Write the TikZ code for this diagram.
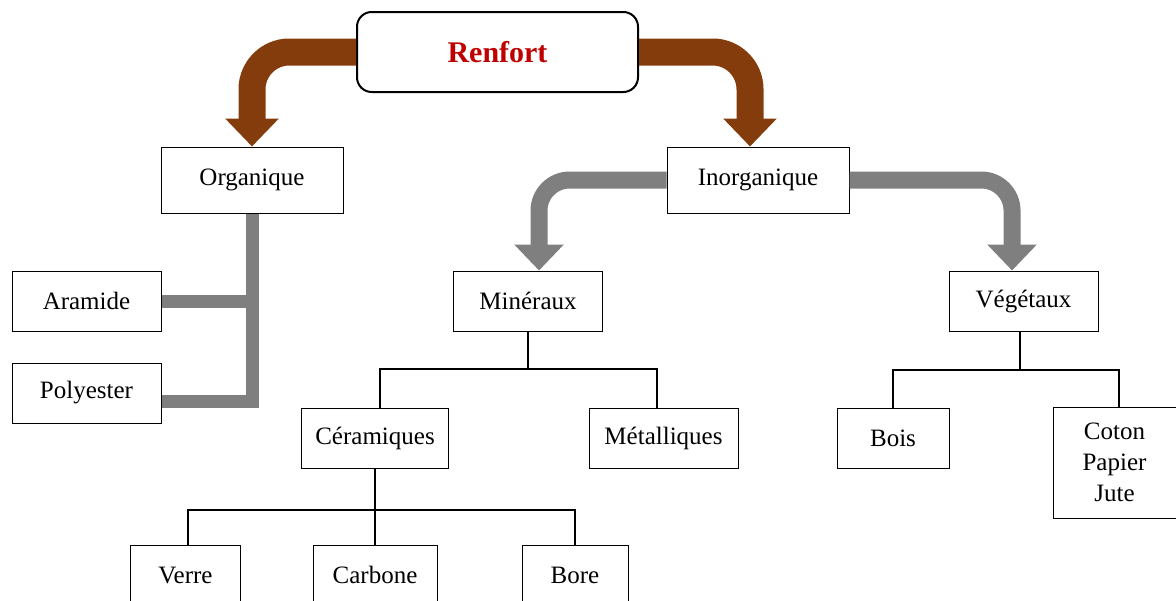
\documentclass[tikz,border=0pt]{standalone}
\usepackage{fontspec}
\setmainfont{Liberation Serif}
\usepackage{xcolor}
\usepackage{tikz}
\usetikzlibrary{arrows.meta}
\definecolor{rust}{HTML}{843C0C}
\definecolor{slate}{HTML}{7F7F7F}
\definecolor{headred}{HTML}{C00000}

\begin{document}
\begin{tikzpicture}[x=0.75pt, y=-0.75pt,
    box/.style={draw, line width=0.75pt, fill=white, inner sep=2pt, align=center,
      font=\fontsize{18.75}{23.25}\selectfont},
    bigarrow/.style={rust, line width=20.25pt, rounded corners=28pt,
      -{Triangle[width=39pt,length=21pt]}},
    midarrow/.style={slate, line width=12.75pt, rounded corners=23pt,
      -{Triangle[width=36pt,length=19.5pt]}},
    bar/.style={slate, line width=9.75pt},
    branch/.style={line width=1.5pt}]
    \useasboundingbox (0,0) rectangle (1176,600);

    \node[draw, line width=1.5pt, rounded corners=11pt, minimum width=210.75pt,
      minimum height=60pt, text=headred, font=\fontsize{22.5}{27}\selectfont\bfseries]
      (renfort) at (497.5,52) {Renfort};

    \foreach \nm/\x/\y/\w/\h/\lbl in {organique/252/180/136.5/49.5/Organique,
        inorganique/758/180/136.5/49.5/Inorganique,
        aramide/86.5/301/111.75/45/Aramide, polyester/86.5/393/111.75/45/Polyester,
        mineraux/528/301/111.75/45/Minéraux, vegetaux/1023.5/301/111.75/45/Végétaux,
        ceramiques/375/438/110.25/45/Céramiques, metalliques/663.5/438/111.75/45/Métalliques,
        bois/893/438/84/45/Bois, verre/185.5/575/82.5/45/Verre,
        carbone/375/575/93/45/Carbone, bore/575/575/79.5/45/Bore} {
      \node[box, minimum width=\w pt, minimum height=\h pt] (\nm) at (\x,\y) {\lbl};
    }
    \node[box, minimum width=92.25pt, minimum height=83.25pt] (coton) at (1114.5,462.5)
      {Coton\\Papier\\Jute};

    \draw[bigarrow] (renfort.west) -| (organique.north);
    \draw[bigarrow] (renfort.east) -| ([xshift=-6pt]inorganique.north);
    \draw[midarrow] (inorganique.west) -| ([xshift=8.25pt]mineraux.north);
    \draw[midarrow] (inorganique.east) -| ([xshift=-8.6pt]vegetaux.north);

    \draw[bar] (organique.south) |- ([yshift=-6pt]polyester.east);
    \draw[bar] (organique.south |- aramide.east) -- (aramide.east);

    \draw[branch] (mineraux.south) -- ++(0,37) coordinate (mj);
    \draw[branch] ([xshift=3.75pt]ceramiques.north) |- (mj) -| ([xshift=-5pt]metalliques.north);
    \draw[branch] (ceramiques.south) -- ++(0,41) coordinate (cj);
    \draw[branch] ([xshift=2pt]verre.north) |- (cj) -| (bore.north);
    \draw[branch] (cj) -- (carbone.north);
    \draw[branch] ([xshift=-2.5pt]vegetaux.south) -- ++(0,38) coordinate (vj);
    \draw[branch] (bois.north) |- (vj) -| ([xshift=3.4pt]coton.north);
  \end{tikzpicture}
\end{document}
